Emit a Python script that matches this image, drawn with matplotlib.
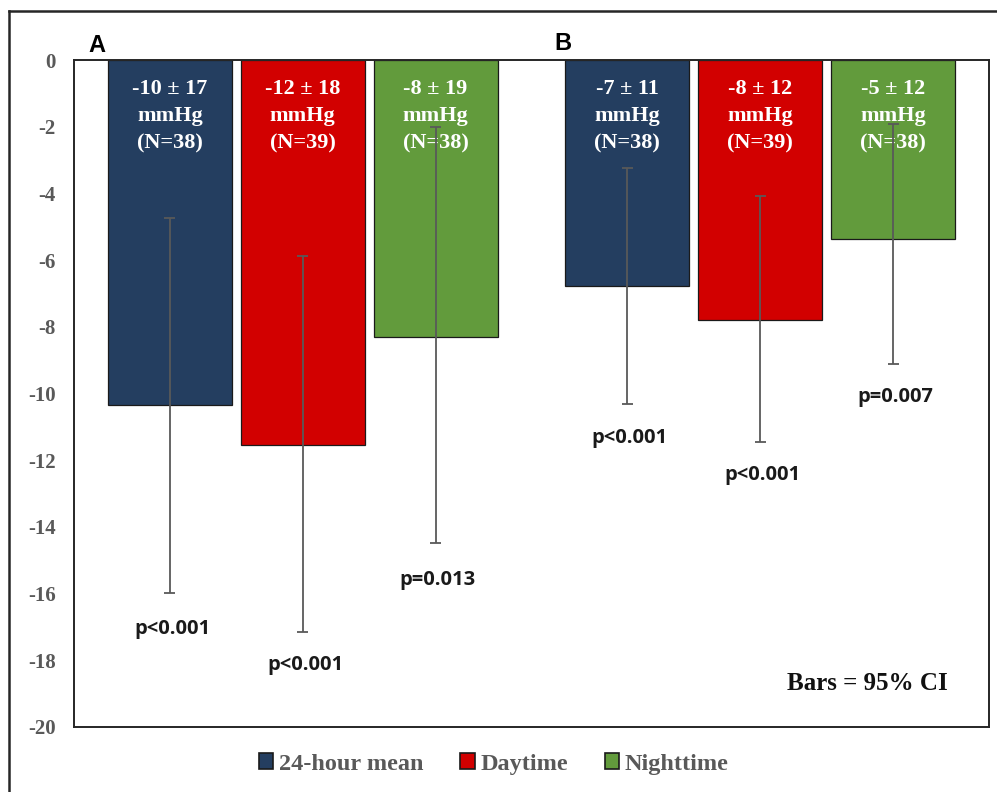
import numpy as np
import matplotlib.pyplot as plt
from matplotlib.lines import Line2D

# change in blood pressure (mmHg), panel A and panel B
panels = ['A', 'B']
series = ['24-hour mean', 'Daytime', 'Nighttime']
colors = ['#243E60', '#D20000', '#629B3C']

means = [[-10.35, -11.55, -8.3],
         [-6.78, -7.8, -5.37]]
ci_low = [[-15.98, -17.15, -14.48],
          [-10.31, -11.45, -9.12]]
ci_high = [[-4.74, -5.88, -2.0],
           [-3.24, -4.08, -1.92]]
bar_text = [['-10 ± 17', '-12 ± 18', '-8 ± 19'],
            ['-7 ± 11', '-8 ± 12', '-5 ± 12']]
n_text = [['(N=38)', '(N=39)', '(N=38)'],
          ['(N=38)', '(N=39)', '(N=38)']]
p_text = [['p<0.001', 'p<0.001', 'p=0.013'],
          ['p<0.001', 'p<0.001', 'p=0.007']]
p_y = [[-17.05, -18.15, -15.58],
       [-11.33, -12.45, -10.1]]

yticks = list(range(0, -21, -2))

serif = 'Liberation Serif'
sans = 'Open Sans'
gray = '#595959'

fig = plt.figure(figsize=(9.97, 7.92), dpi=100)
ax = fig.add_axes([74 / 997, 65 / 792, 915 / 997, 667 / 792])

width = 0.2707
step = 0.2904
x = np.arange(len(panels))

for i, name in enumerate(series):
    xs = x + (i - 1) * step
    vals = [means[g][i] for g in range(len(panels))]
    ax.bar(xs, vals, width, color=colors[i], edgecolor='#1a1a1a',
           linewidth=0.9, label=name, zorder=2)
    for g in range(len(panels)):
        lo = ci_low[g][i]
        hi = ci_high[g][i]
        ax.vlines(xs[g], lo, hi, color=gray, lw=1.3, zorder=4)
        ax.hlines([lo, hi], xs[g] - 0.012, xs[g] + 0.012, color=gray, lw=1.3, zorder=4)
        ax.text(xs[g], -0.56, bar_text[g][i] + '\nmmHg\n' + n_text[g][i],
                ha='center', va='top', color='white', fontsize=16,
                fontweight='bold', family=serif, linespacing=1.5, zorder=3)
        ax.text(xs[g] + 0.005, p_y[g][i], p_text[g][i], ha='center',
                va='center', fontsize=14.5, fontweight='bold', family=sans,
                color='#1a1a1a', zorder=3)

ax.set_xlim(-0.5, 1.5)
ax.set_ylim(-20, 0)
ax.set_xticks([])
ax.set_yticks(yticks)
ax.set_yticklabels([str(t) for t in yticks], family=serif, fontsize=15,
                   fontweight='bold', color=gray)
ax.tick_params(axis='y', length=0, pad=13)
for s in ax.spines.values():
    s.set_color('#262626')
    s.set_linewidth(1.4)

ax.text(0.955, 0.065, 'Bars = 95% CI', transform=ax.transAxes, ha='right',
        va='center', fontsize=18, fontweight='bold', family=serif,
        color='#111111')

fig.text(97 / 997, 1 - 45 / 792, 'A', ha='center', va='center',
         fontsize=17, fontweight='bold', family='Liberation Sans')
fig.text(563 / 997, 1 - 43 / 792, 'B', ha='center', va='center',
         fontsize=17, fontweight='bold', family='Liberation Sans')

handles = [plt.Rectangle((0, 0), 1, 1, facecolor=c, edgecolor='#1a1a1a', lw=1.2)
           for c in colors]
leg = fig.legend(handles, series, loc='center', bbox_to_anchor=(494 / 997, 1 - 764 / 792),
                 ncol=3, frameon=False, handlelength=0.58, handleheight=0.58,
                 handletextpad=0.25, columnspacing=1.5,
                 prop={'family': serif, 'weight': 'bold', 'size': 17.5})
for t in leg.get_texts():
    t.set_color(gray)

# outer border of the figure (top and left edges only)
fig.add_artist(Line2D([9 / 997, 9 / 997], [0, 1 - 11 / 792],
                      transform=fig.transFigure, color='#262626', lw=1.8))
fig.add_artist(Line2D([9 / 997, 1], [1 - 11 / 792, 1 - 11 / 792],
                      transform=fig.transFigure, color='#262626', lw=1.8))

fig.savefig('out.png', dpi=100)
